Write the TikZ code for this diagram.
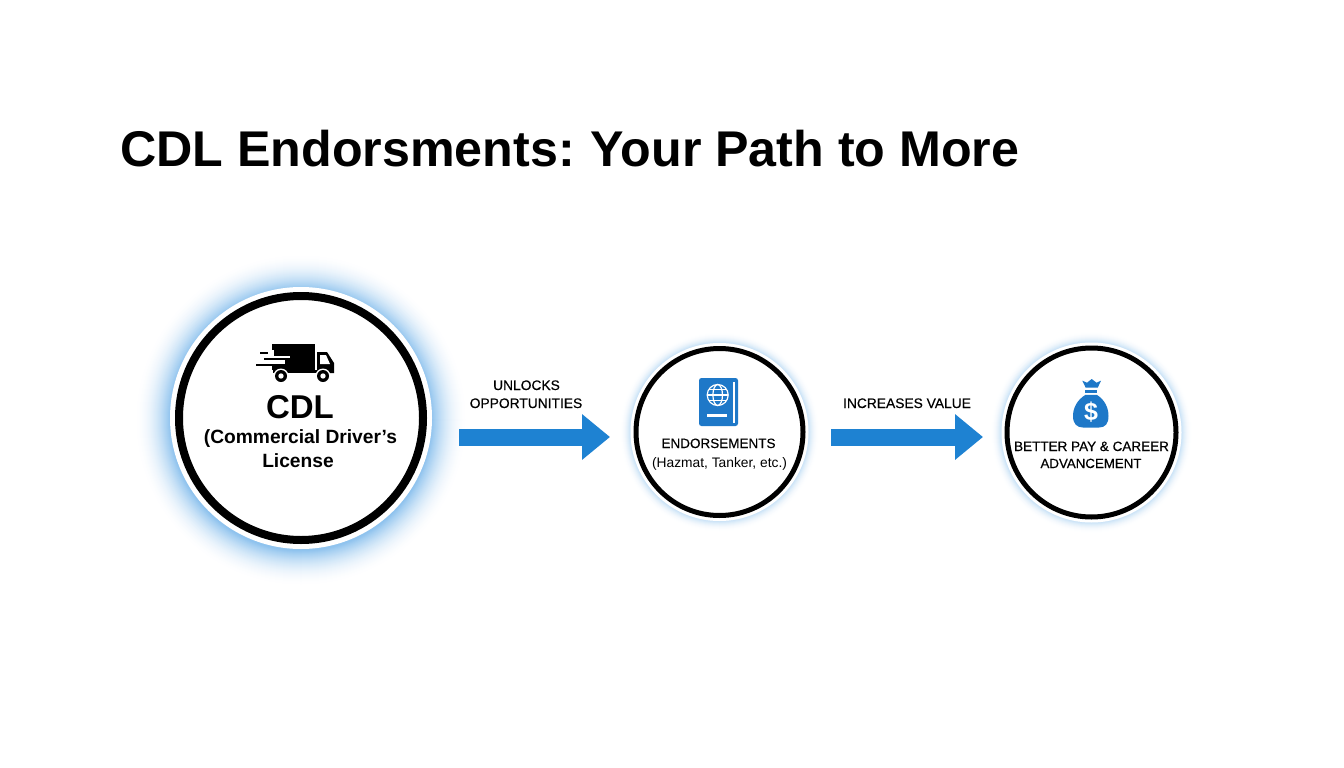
\documentclass[tikz,border=0pt]{standalone}
\usepackage{fontspec}
\setmainfont{Liberation Sans}
\newfontfamily\medfont[FakeBold=0.35]{Liberation Sans}
\usetikzlibrary{arrows.meta}
\definecolor{flowblue}{HTML}{1E82D2}
\definecolor{iconblue}{HTML}{1E78C8}
\definecolor{glowblue}{HTML}{8FC3EE}
\tikzset{
  x=1pt,y=-1pt,
  ring/.style={circle,draw=black,fill=white,inner sep=0pt,outer sep=0pt},
  flow/.style={draw=flowblue,line width=17pt,-{Triangle[length=28pt,width=44pt,fill=flowblue]}},
  lbl/.style={inner sep=0pt,align=center,text=black},
}
\newcommand{\fs}[1]{\fontsize{#1pt}{#1pt}\selectfont}
\begin{document}
\begin{tikzpicture}
\useasboundingbox (0,0) rectangle (1344,768);
\fill[white] (0,0) rectangle (1344,768);

% glows
\foreach \i in {0,...,36}{
  \pgfmathsetmacro{\p}{100*(\i/36)^2}
  \fill[glowblue!\p!white] (301,420) circle[radius=167-\i];
}
\fill[white] (301,418) circle[radius=131];
\foreach \i in {0,...,10}{
  \pgfmathsetmacro{\p}{45*(\i/10)^2}
  \fill[glowblue!\p!white] (719.5,432) circle[radius=100-\i];
  \fill[glowblue!\p!white] (1091.5,432.5) circle[radius=101-\i];
}
\fill[white] (719.5,432) circle[radius=89];
\fill[white] (1091.5,432.5) circle[radius=90];

% title
\node[lbl,anchor=base west] (title) at (120,166) {\fs{50.2}\bfseries CDL Endorsments:\kern-2.5pt{} Your Path to More};

% circles
\node[ring,line width=8pt,minimum size=244pt] (cdl) at (301,418) {};
\node[ring,line width=5pt,minimum size=167pt] (end) at (719.5,432) {};
\node[ring,line width=5pt,minimum size=169pt] (pay) at (1091.5,432.5) {};

% connectors
\draw[flow] ([xshift=36pt,yshift=-19pt]cdl.east) -- ([xshift=-26pt,yshift=-5pt]end.west);
\draw[flow] ([xshift=28pt,yshift=-5pt]end.east) -- ([xshift=-24pt,yshift=-4.5pt]pay.west);

% connector labels
\node[lbl,anchor=base] (u1) at (526.5,390) {\fs{13.8}\medfont UNLOCKS};
\node[lbl,anchor=base] (u2) at (526,408) {\fs{13.8}\medfont OPPORTUNITIES};
\node[lbl,anchor=base] (u3) at (907,408) {\fs{13.8}\medfont INCREASES VALUE};

% CDL text
\node[lbl,anchor=base] (t1) at (300,418) {\fs{33}\bfseries CDL};
\node[lbl,anchor=base] (t2) at (300.5,443) {\fs{19.2}\bfseries (Commercial Driver’s};
\node[lbl,anchor=base] (t3) at (298,467) {\fs{19.2}\bfseries License};

% endorsements text
\node[lbl,anchor=base] (e1) at (718.5,448) {\fs{13.5}\medfont ENDORSEMENTS};
\node[lbl,anchor=base] (e2) at (719.5,467) {\fs{13.8}(Hazmat, Tanker, etc.)};

% pay text
\node[lbl,anchor=base] (p1) at (1091.5,451) {\fs{13.5}\medfont BETTER PAY \& CAREER};
\node[lbl,anchor=base] (p2) at (1091,468) {\fs{13.3}\medfont ADVANCEMENT};

% truck icon
\fill (272,343.5) -- (315,343.5) -- (315,370) -- (272,370) -- cycle;
\fill[white] (271,355.5) rectangle (290,357.6);
\fill[white] (271,360.4) rectangle (285,363.6);
\fill[white] (271,349.5) rectangle (274,355.5);
\fill (260,351.5) rectangle (268,353.8);
\fill (264,357.7) rectangle (288,360.3);
\fill (256,363.7) rectangle (283,366.2);
\fill (317,352) -- (327,352) -- (334,363) -- (334,373) -- (317,373) -- cycle;
\fill[white] (320,355) -- (326,355) -- (330,364) -- (320,364) -- cycle;
\fill (273,370) rectangle (334,373);
\foreach \wx in {281,323}{
  \fill[white] (\wx,376) circle[radius=7.5];
  \fill (\wx,376) circle[radius=6];
  \fill[white] (\wx,376) circle[radius=2.7];
}

% passport icon
\fill[iconblue,rounded corners=2.5pt] (699,378) rectangle (738,426);
\draw[white,line width=1.2pt] (734,382) -- (734,423);
\fill[white] (707,414) rectangle (727,417);
\begin{scope}[white,line width=1.2pt]
  \draw (717.7,395) circle[radius=10.5];
  \draw (717.7,395) ellipse[x radius=4.8,y radius=10.5];
  \draw (707.2,395) -- (728.2,395);
  \draw (709,389.5) -- (726.4,389.5);
  \draw (709,400.5) -- (726.4,400.5);
\end{scope}

% money bag icon
\fill[iconblue] (1082.3,380.7) -- (1087,382.7) -- (1091.7,379) -- (1096.5,382.7) -- (1101,380.7) -- (1097.7,387.7) -- (1085.7,387.7) -- cycle;
\fill[iconblue] (1085,390.3) rectangle (1097,393.3);
\fill[iconblue] (1085.5,394.8) .. controls (1077,400) and (1073,408) .. (1073,416)
  .. controls (1073,424) and (1077,427.5) .. (1083,427.5) -- (1099,427.5)
  .. controls (1105,427.5) and (1108.5,424) .. (1108.5,416)
  .. controls (1108.5,408) and (1105,400) .. (1096.8,394.8) -- cycle;
\node[lbl,text=white] (dollar) at (1091,412) {\fs{25}\bfseries \$};
\end{tikzpicture}
\end{document}
